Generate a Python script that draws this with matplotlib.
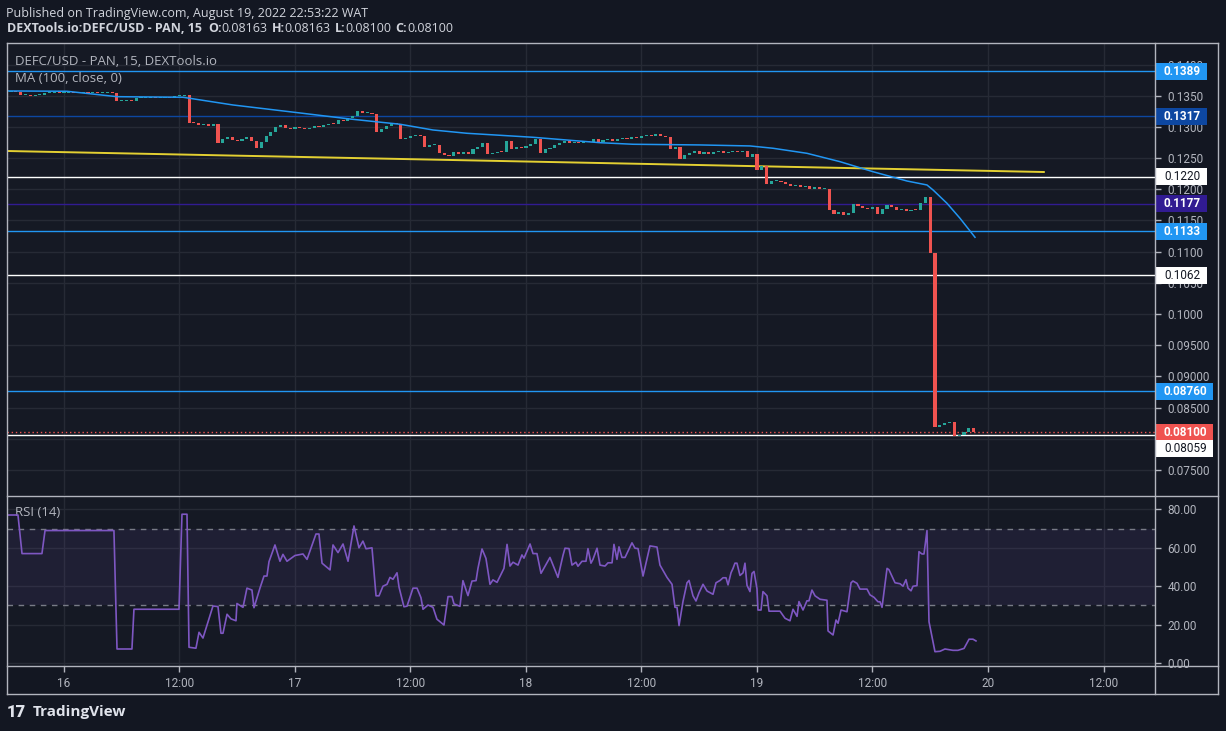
import numpy as np
import pandas as pd
import matplotlib
matplotlib.use("Agg")
import matplotlib.pyplot as plt
import matplotlib.dates as mdates
from matplotlib.patches import Rectangle
from matplotlib.lines import Line2D

plt.rcParams['font.family'] = ['Roboto', 'DejaVu Sans']

# ---- data ----
# 30 min closes starting Aug 15 18:00
start = "2022-08-15 18:00"
close = [0.1356, 0.1357, 0.1356, 0.1351, 0.1351, 0.1350, 0.1351, 0.1351, 0.1355,
         0.1355, 0.1356, 0.1355, 0.1355, 0.1356, 0.1355, 0.1355, 0.1356, 0.1355,
         0.1356, 0.1355, 0.1355, 0.1356, 0.1355, 0.1342, 0.1342, 0.1343, 0.1342,
         0.1347, 0.1347, 0.1347, 0.1348, 0.1347, 0.1347, 0.1348, 0.1347, 0.1349,
         0.1350, 0.1351, 0.1307, 0.1306, 0.1303, 0.1305, 0.1301, 0.1304, 0.1274,
         0.1280, 0.1284, 0.1279, 0.1277, 0.1281, 0.1284, 0.1278, 0.1267, 0.1276,
         0.1285, 0.1292, 0.1300, 0.1303, 0.1298, 0.1297, 0.1300, 0.1299, 0.1297,
         0.1299, 0.1302, 0.1300, 0.1303, 0.1305, 0.1304, 0.1311, 0.1309, 0.1315,
         0.1318, 0.1326, 0.1322, 0.1323, 0.1320, 0.1292, 0.1297, 0.1302, 0.1306,
         0.1304, 0.1281, 0.1283, 0.1286, 0.1287, 0.1285, 0.1268, 0.1271, 0.1271,
         0.1258, 0.1255, 0.1253, 0.1259, 0.1257, 0.1260, 0.1256, 0.1264, 0.1268,
         0.1274, 0.1256, 0.1258, 0.1260, 0.1259, 0.1278, 0.1264, 0.1268, 0.1266,
         0.1269, 0.1272, 0.1280, 0.1258, 0.1264, 0.1267, 0.1271, 0.1274, 0.1277,
         0.1275, 0.1276, 0.1274, 0.1277, 0.1276, 0.1280, 0.1276, 0.1279, 0.1281,
         0.1278, 0.1280, 0.1283, 0.1280, 0.1284, 0.1282, 0.1285, 0.1287, 0.1286,
         0.1288, 0.1286, 0.1284, 0.1265, 0.1268, 0.1249, 0.1255, 0.1258, 0.1261,
         0.1257, 0.1259, 0.1256, 0.1259, 0.1261, 0.1258, 0.1260, 0.1262, 0.1259,
         0.1261, 0.1252, 0.1256, 0.1231, 0.1237, 0.1208, 0.1213, 0.1214, 0.1212,
         0.1208, 0.1205, 0.1207, 0.1203, 0.1206, 0.1201, 0.1203, 0.1200, 0.1201,
         0.1167, 0.1160, 0.1163, 0.1158, 0.1162, 0.1177, 0.1173, 0.1170, 0.1168,
         0.1171, 0.1160, 0.1168, 0.1175, 0.1171, 0.1166, 0.1168, 0.1165, 0.1167,
         0.1166, 0.1178, 0.1188, 0.1098, 0.0818, 0.0822, 0.0825, 0.0826, 0.0805,
         0.0806, 0.0811, 0.0817, 0.0810]

# MA(100) - hours from Aug 16 00:00
ma_h = [-5.92, 0.31, 5.51, 12.36, 17.56, 24.52, 29.71, 34.91, 38.34, 41.87, 48.73,
        55.69, 59.12, 66.08, 71.27, 73.66, 77.19, 80.62, 84.05, 87.58, 89.66, 90.29,
        91.74, 93.09, 94.65]
ma_v = [0.13577, 0.13572, 0.13485, 0.13476, 0.13352, 0.13224, 0.13127, 0.13043,
        0.12951, 0.12898, 0.12834, 0.12747, 0.12722, 0.12711, 0.12695, 0.12658,
        0.12577, 0.12443, 0.12282, 0.12133, 0.12069, 0.11989, 0.11775, 0.11535, 0.1123]

# yellow trend line
trend_h = [-5.92, 101.8]
trend_v = [0.12614, 0.12277]

# horizontal levels
levels = [0.1389, 0.1317, 0.1220, 0.1177, 0.1133, 0.1062, 0.0876, 0.08059]
level_txt = ["0.1389", "0.1317", "0.1220", "0.1177", "0.1133", "0.1062", "0.08760", "0.08059"]
level_col = ["#2196F3", "#0D47A1", "#FFFFFF", "#311B92", "#2196F3", "#FFFFFF", "#2196F3", "#FFFFFF"]
last_price = 0.08100

# RSI(14)
rsi_h = [-5.92, -4.78, -4.36, -2.29, -1.97, 5.19, 5.51, 7.06, 7.27, 11.95, 12.26, 12.78,
         12.99, 13.71, 14.03, 14.44, 15.48, 16.00, 16.31, 16.52, 16.94, 17.35, 17.87,
         17.97, 18.60, 19.01, 19.53, 19.74, 20.36, 20.78, 21.09, 21.30, 21.92, 22.44,
         22.75, 23.17, 24.00, 24.83, 25.25, 26.18, 26.49, 26.81, 27.64, 27.95, 28.47,
         28.99, 29.51, 30.13, 30.65, 31.06, 31.38, 32.00, 32.42, 32.73, 33.14, 33.56,
         33.87, 34.18, 34.60, 34.81, 35.32, 35.64, 36.26, 36.68, 37.09, 37.30, 37.82,
         38.34, 38.75, 39.48, 39.90, 40.31, 40.52, 41.14, 41.45, 41.97, 42.39, 42.81,
         43.01, 43.43, 43.84, 44.26, 44.57, 44.99, 45.71, 46.03, 46.34, 46.65, 47.17,
         47.58, 47.79, 48.42, 48.73, 49.14, 49.56, 50.49, 51.32, 51.84, 52.05, 52.47,
         52.78, 53.19, 53.40, 53.82, 54.23, 54.44, 54.75, 54.96, 55.38, 55.69, 56.21,
         56.52, 56.94, 57.14, 57.45, 57.66, 57.97, 58.29, 59.01, 59.32, 59.64, 60.16,
         60.88, 61.61, 61.92, 62.65, 63.17, 63.48, 63.69, 63.90, 64.31, 64.73, 64.94,
         65.35, 65.66, 65.97, 66.39, 66.81, 67.43, 67.74, 68.16, 68.47, 68.78, 68.99,
         69.30, 69.51, 69.71, 69.92, 70.23, 70.55, 70.75, 70.96, 71.27, 71.48, 71.69,
         72.00, 72.10, 72.42, 72.62, 73.04, 73.25, 74.39, 74.91, 75.43, 75.74, 76.16,
         76.36, 76.78, 77.19, 77.40, 77.71, 78.03, 78.55, 79.27, 79.38, 79.90, 80.21,
         80.42, 80.73, 81.35, 81.77, 81.97, 82.39, 82.70, 83.43, 83.74, 84.16, 84.57,
         84.78, 84.99, 85.51, 85.71, 86.34, 86.86, 87.17, 87.48, 87.69, 88.00, 88.21,
         88.62, 88.83, 89.14, 89.35, 89.66, 89.87, 90.49, 91.01, 91.53, 92.36, 92.88,
         93.51, 94.03, 94.44, 94.75]
rsi_v = [77.1, 77.1, 57, 57, 69, 69, 7.3, 7.3, 28, 28, 77.5, 77.5,
         8.2, 7.7, 16, 13, 29.7, 29.4, 15.5, 15.5, 25.4, 23, 22,
         31, 29, 39, 38, 28.8, 39, 45.3, 45.3, 52.8, 61.5, 53,
         56.6, 53, 56, 56.8, 54, 67.2, 67.2, 52, 48.5, 61.5, 57.5,
         62, 53, 71.4, 60, 63.5, 59.5, 60, 35, 35, 40, 41,
         44.6, 43.6, 47, 39.5, 29.3, 29.6, 39, 39, 34, 28, 30.2,
         29, 22.8, 19.8, 34.6, 34.6, 30.8, 29.5, 42.9, 35.1, 42.7, 42.9,
         49.3, 59.4, 54.5, 41, 43.3, 42, 49.3, 61.8, 50.5, 52.5, 51,
         56.3, 54.6, 62, 57, 57, 46.7, 55, 44.6, 56, 59.8, 59.6,
         51, 52.5, 50.4, 53, 53, 59.6, 52, 54, 59.8, 51, 50.5,
         52.2, 52.2, 61.8, 54, 60.5, 55, 55, 62.6, 59.8, 59.6, 45.3,
         61, 60.4, 51, 44.6, 41, 29, 29, 19.5, 32, 41.8, 43,
         35, 32.3, 36.5, 41, 37.5, 35.8, 41.8, 43, 44.4, 44.4, 40.7,
         47, 49.3, 52, 52, 45.6, 47, 52, 40.5, 37.2, 46.7, 47.7,
         38.6, 27.6, 27.6, 37.2, 35, 27, 27, 23.3, 22, 28, 24.3,
         32, 27.6, 32.4, 32.4, 38, 35, 33.2, 32.7, 16.7, 14.6, 22.4,
         20.7, 27.6, 26.7, 41.8, 42.7, 41.5, 38.5, 38.5, 35.5, 34.2, 31.9,
         31.9, 29, 49.3, 48.6, 41.8, 41.3, 40, 43.4, 39, 37.6, 40,
         40.3, 58, 56.8, 56.8, 69, 21.5, 5.9, 6.1, 7.3, 6.6, 6.6,
         7.6, 12.4, 12.4, 11.5]

# ---- layout helpers (pixels of the 1226x731 picture) ----
W, H = 1226, 731
BG = "#131722"
PANE = "#151924"
GRID = "#262A35"
FRAME = "#B2B5BE"
TXT = "#B2B5BE"
UP, DOWN = "#26A69A", "#EF5350"

def fx(x):
    return x / W

def fy(y):
    return 1 - y / H

base = pd.Timestamp("2022-08-16")

def tnum(hours):
    return mdates.date2num(base + pd.to_timedelta(np.asarray(hours, dtype=float), unit="h"))

fig = plt.figure(figsize=(W / 100, H / 100), dpi=100, facecolor=BG)
ax_p = fig.add_axes([fx(7), fy(495), fx(1155) - fx(7), fy(43) - fy(495)], facecolor=PANE)
ax_r = fig.add_axes([fx(7), fy(666), fx(1155) - fx(7), fy(496) - fy(666)], facecolor=PANE)

xlim = (tnum(-5.92), tnum(113.35))
xticks = tnum(np.arange(0, 109, 12))

for ax in (ax_p, ax_r):
    for s in ax.spines.values():
        s.set_visible(False)
    ax.set_xlim(*xlim)
    ax.set_xticks(xticks)
    ax.grid(True, color=GRID, lw=1)
    ax.set_axisbelow(True)
    ax.yaxis.tick_right()
    ax.tick_params(axis="y", colors=FRAME, labelcolor=TXT, length=4, width=1,
                   pad=5, labelsize=8.5)

ax_p.tick_params(axis="x", length=0, labelbottom=False)

def xfmt(v, pos):
    d = mdates.num2date(v)
    return str(d.day) if d.hour == 0 else d.strftime("%H:%M")

ax_r.xaxis.set_major_formatter(plt.FuncFormatter(xfmt))
ax_r.tick_params(axis="x", colors=FRAME, labelcolor=TXT, length=4, width=1,
                 pad=4, labelsize=8.5)

# ---- price pane ----
close = np.array(close)
t = mdates.date2num(pd.date_range(start, periods=len(close), freq="30min"))
opens = np.r_[close[0], close[:-1]]
cols = np.where(close >= opens, UP, DOWN)
lo = np.minimum(opens, close)
ht = np.maximum(np.abs(close - opens), 0.00016)
ax_p.bar(t, ht, width=0.5 / 24 * 0.65, bottom=lo, color=cols, linewidth=0, zorder=4)

ax_p.set_ylim(0.07097, 0.14346)
pticks = np.arange(0.075, 0.1401, 0.005)
ax_p.set_yticks(pticks)
ax_p.set_yticklabels([f"{v:.4f}" if v > 0.0999 else f"{v:.5f}" for v in pticks])

for v, c in zip(levels, level_col):
    ax_p.axhline(v, color=c, lw=1, zorder=3)
ax_p.axhline(last_price, color=DOWN, lw=1, ls=(0, (1, 2)), zorder=3)

ax_p.plot(tnum(trend_h), trend_v, color="#E3D032", lw=1.4, zorder=3)
ax_p.plot(tnum(ma_h), ma_v, color="#2196F3", lw=1.1, zorder=5)

ax_p.text(0.007, 0.958, "DEFC/USD - PAN, 15, DEXTools.io", transform=ax_p.transAxes,
          color=TXT, fontsize=9.5, va="center", family=["Open Sans", "DejaVu Sans"])
ax_p.text(0.007, 0.921, "MA (100, close, 0)", transform=ax_p.transAxes, color=TXT,
          fontsize=9.5, va="center", family=["Open Sans", "DejaVu Sans"])

# ---- RSI pane ----
ax_r.set_ylim(-1.56, 87.0)
ax_r.set_yticks([0, 20, 40, 60, 80])
ax_r.set_yticklabels(["0.00", "20.00", "40.00", "60.00", "80.00"])
ax_r.axhspan(30, 70, color="#7E57C2", alpha=0.1, lw=0)
for v in (30, 70):
    ax_r.axhline(v, color="#787B86", lw=1, ls=(0, (4, 4)))
ax_r.plot(tnum(rsi_h), rsi_v, color="#7E57C2", lw=1.2, zorder=4)
ax_r.text(0.007, 0.9, "RSI (14)", transform=ax_r.transAxes, color=TXT, fontsize=9.5,
          va="center", family=["Open Sans", "DejaVu Sans"])

# ---- price labels on the right scale ----
fig.canvas.draw()
boxes = []
for v, s, c in list(zip(levels, level_txt, level_col)) + [(last_price, "0.08100", DOWN)]:
    yp = ax_p.transData.transform((xlim[0], v))[1]
    boxes.append([yp, s, c, v == last_price])
# the last price label keeps its place, others move down when they collide
boxes.sort(key=lambda b: (not b[3], -b[0]))
placed = []
for b in boxes:
    yp = b[0]
    for q in placed:
        if abs(q - yp) < 16.5:
            yp = q - 16.5
    b[0] = yp
    placed.append(yp)
for yp, s, c, is_last in boxes:
    w = 52 if len(s) == 6 else 58
    fig.add_artist(Rectangle((fx(1155), (yp - 8.5) / H), w / W, 17 / H, transform=fig.transFigure,
                             facecolor=c, edgecolor="none", zorder=5))
    tc = "#131722" if c == "#FFFFFF" else "#FFFFFF"
    fig.text(fx(1164), yp / H, s, color=tc, fontsize=8.5, va="center", ha="left",
             fontweight="normal" if c == "#FFFFFF" else "bold", zorder=6)

# ---- frame ----
frame = [((7, 43), (1218, 43)), ((7, 694), (1218, 694)), ((7, 43), (7, 694)),
         ((1218, 43), (1218, 694)), ((1155, 43), (1155, 694)),
         ((7, 495.5), (1218, 495.5)), ((7, 666), (1218, 666))]
for (x0, y0), (x1, y1) in frame:
    fig.add_artist(Line2D([fx(x0), fx(x1)], [fy(y0), fy(y1)], color=FRAME, lw=1,
                          transform=fig.transFigure, zorder=7))

# ---- header / footer ----
HF = ["Open Sans", "DejaVu Sans"]
fig.text(fx(6), fy(13), "Published on TradingView.com, August 19, 2022 22:53:22 WAT",
         color="#D1D4DC", fontsize=9, va="center", family=HF)
runs = [("DEXTools.io:DEFC/USD - PAN, 15", "bold", 6), ("O:", "bold", 0), ("0.08163", "normal", 4),
        ("H:", "bold", 0), ("0.08163", "normal", 4), ("L:", "bold", 0), ("0.08100", "normal", 4),
        ("C:", "bold", 0), ("0.08100", "normal", 0)]
r = fig.canvas.get_renderer()
x = 7
for s, wt, gap in runs:
    tt = fig.text(fx(x), fy(29), s, color="#D1D4DC", fontsize=9, fontweight=wt, va="center", family=HF)
    x += tt.get_window_extent(r).width + gap

fig.text(fx(7), fy(712), "17", color="#E0E3EB", fontsize=12, fontweight="heavy", va="center")
fig.text(fx(33), fy(712), "TradingView", color="#E0E3EB", fontsize=11, fontweight="bold",
         va="center", family=HF)

fig.savefig("out.png", dpi=100, facecolor=BG)
